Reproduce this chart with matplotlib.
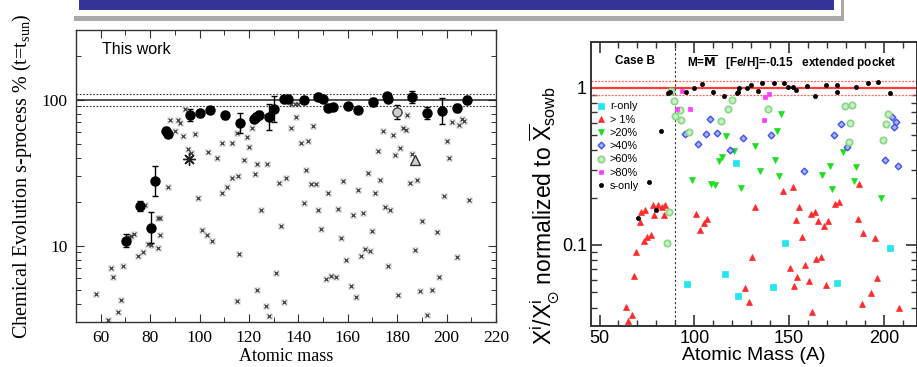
import numpy as np
import matplotlib.pyplot as plt
from matplotlib.patches import Rectangle
from matplotlib.ticker import MultipleLocator, LogLocator, NullFormatter, FixedLocator, FixedFormatter

plt.rcParams['mathtext.fontset'] = 'dejavusans'

# ---- left panel: chemical evolution s-process contributions ----
# (mass, percent, relative error)
this_work = [
    (70.1, 10.8, 0.11), (76.0, 18.6, 0.08), (80.2, 13.3, 0.28), (82.1, 27.6, 0.27),
    (86.6, 61.0, 0.06), (87.3, 58.5, 0.06), (96.0, 78.5, 0.10), (100.1, 80.5, 0.06),
    (104.1, 84.5, 0.05), (110.2, 78.0, 0.06), (116.3, 69.0, 0.17), (121.9, 74.0, 0.06),
    (123.0, 76.0, 0.07), (124.2, 78.5, 0.07), (128.0, 76.0, 0.23), (130.2, 86.0, 0.23),
    (134.2, 101.6, 0.04), (136.0, 101.0, 0.04), (142.3, 99.0, 0.05), (148.1, 105.0, 0.05),
    (150.1, 101.5, 0.05), (152.1, 87.3, 0.05), (154.2, 89.6, 0.05), (160.0, 91.0, 0.05),
    (164.0, 84.5, 0.05), (170.2, 96.4, 0.06), (175.9, 106.0, 0.05), (176.4, 100.5, 0.05),
    (186.0, 105.0, 0.10), (192.1, 81.5, 0.10), (198.2, 83.6, 0.22), (204.3, 87.7, 0.06),
    (208.2, 99.5, 0.06),
]
open_circle = (180.1, 82.4, 0.12)
star_point = (95.9, 39.0)
triangle_point = (187.2, 38.4)

others = [
    (94.3, 86), (88.2, 72), (91.2, 72), (92.2, 69), (90.2, 61), (93.2, 56.4), (98.0, 57.8),
    (95.2, 45.7), (96.6, 43.4), (103.3, 43.6), (107.1, 40), (109.2, 50.7), (113.1, 50.2),
    (115.1, 59.5), (119.2, 55.8), (121.2, 63.5), (120.2, 47.4), (118.2, 38.6), (123.2, 36.5),
    (127.2, 36.5), (122.5, 31.2), (115.5, 30.2), (113.2, 29.0), (87.3, 25.3), (99.3, 21.2),
    (108.9, 22.8), (111.1, 25.2), (132.3, 27.0), (135.0, 29.0), (137.1, 63.7), (139.2, 76),
    (137.0, 93), (138.5, 93), (140.0, 93), (141.2, 50.3), (144.1, 52.5), (146.1, 66),
    (143.0, 33), (145.0, 26.5), (147.2, 26.5), (152.1, 23), (158.2, 27.6), (164.2, 24),
    (168.2, 31.5), (171.0, 23), (172.1, 44.2), (173.1, 28), (174.1, 61.3), (178.2, 57.6),
    (179.1, 41.5), (181.2, 46.7), (182.5, 64), (183.5, 62.3), (184.1, 79), (186.1, 42.7),
    (185.2, 26.9), (188.2, 28.3), (200.0, 52.1), (201.1, 40), (202.1, 70.3), (205.0, 67.1),
    (206.1, 74.2), (207.2, 71.5), (78.1, 19.1), (83.1, 15.5), (84.2, 15.5), (71.3, 11.5),
    (72.4, 11.7), (73.5, 12.0), (79.1, 10.3), (80.2, 10.05), (83.2, 9.6), (84.1, 11.8),
    (77.1, 9.06), (75.1, 8.45), (69.0, 7.3), (64.2, 7.03), (65.1, 6.07), (58.1, 4.67),
    (68.2, 4.22), (67.1, 3.52), (63.0, 3.08), (101.0, 12.9), (103.0, 11.9), (105.1, 10.8),
    (116.1, 8.8), (125.0, 17.6), (133.0, 13.6), (131.1, 6.5), (123.1, 5.0), (115.2, 4.2),
    (127.0, 3.84), (128.0, 3.32), (134.1, 4.1), (199.1, 21.8), (209.2, 20.7), (142.3, 19.6),
    (148.1, 17.5), (156.2, 17.9), (162.3, 16.1), (166.3, 16.8), (175.1, 18.3), (177.1, 17.5),
    (190.0, 14.7), (149.2, 13.1), (170.0, 12.7), (196.3, 12.4), (157.2, 11.2), (167.0, 9.5),
    (169.0, 9.25), (187.2, 9.4), (165.3, 8.45), (159.2, 8.0), (204.1, 8.3), (176.2, 7.3),
    (151.1, 5.94), (153.1, 6.2), (155.1, 6.1), (197.1, 6.1), (161.2, 5.3), (163.2, 4.45),
    (180.2, 4.57), (189.3, 4.87), (194.0, 5.0), (192.2, 3.33),
]
solar_band = (90, 100, 110)

# ---- right panel: normalised abundances, case B ----
r_only = [(121.8, 0.333), (96.1, 0.0565), (116.0, 0.0656), (123.0, 0.0471), (141.7, 0.0538),
          (147.8, 0.1035), (175.5, 0.057), (203.3, 0.0953)]
above_1 = [
    (64.0, 0.0403), (67.1, 0.0357), (65.0, 0.0327), (68.1, 0.0632), (69.2, 0.0898),
    (71.1, 0.1395), (72.0, 0.162), (74.1, 0.166), (73.2, 0.1056), (75.1, 0.1125),
    (77.2, 0.115), (78.1, 0.181), (79.0, 0.1545), (81.1, 0.181), (82.9, 0.1746),
    (84.8, 0.181), (83.9, 0.1545), (101.0, 0.158), (104.9, 0.138), (106.8, 0.1465),
    (102.8, 0.125), (126.6, 0.0532), (128.8, 0.0431), (130.6, 0.0839), (132.2, 0.1746),
    (146.6, 0.221), (151.9, 0.233), (155.4, 0.174), (153.7, 0.144), (156.6, 0.112),
    (150.5, 0.0717), (154.3, 0.0628), (152.6, 0.0548), (158.4, 0.0745), (160.5, 0.0592),
    (161.6, 0.1575), (163.7, 0.163), (165.4, 0.143), (168.4, 0.132), (170.4, 0.143),
    (164.2, 0.081), (166.7, 0.0843), (162.3, 0.0376), (169.3, 0.0556), (174.2, 0.1824),
    (176.5, 0.189), (186.2, 0.146), (189.2, 0.12), (195.4, 0.111), (196.2, 0.0614),
    (193.1, 0.0492), (188.3, 0.042), (208.2, 0.0395), (187.1, 0.245),
]
above_20 = [
    (116.9, 0.497), (131.8, 0.429), (114.7, 0.364), (112.8, 0.344), (120.7, 0.395),
    (98.9, 0.258), (108.9, 0.245), (111.0, 0.24), (124.8, 0.231), (145.7, 0.68),
    (143.4, 0.535), (134.6, 0.297), (142.6, 0.348), (144.7, 0.275), (178.3, 0.389),
    (171.4, 0.317), (167.4, 0.28), (185.5, 0.312), (184.4, 0.257), (172.5, 0.226),
    (198.4, 0.198),
]
above_40 = [
    (94.9, 0.512), (108.1, 0.637), (106.0, 0.512), (111.9, 0.517), (101.9, 0.44),
    (119.0, 0.401), (125.7, 0.48), (140.6, 0.5), (157.7, 0.297), (177.6, 0.592),
    (173.5, 0.504), (180.6, 0.419), (204.3, 0.65), (206.4, 0.607), (205.5, 0.564),
    (200.5, 0.349), (207.5, 0.317),
]
above_60 = [
    (87.9, 0.961), (89.1, 0.823), (92.2, 0.721), (89.9, 0.66), (93.1, 0.623), (97.0, 0.522),
    (113.9, 0.619), (117.7, 0.738), (119.9, 0.842), (138.7, 0.735), (179.7, 0.764),
    (183.2, 0.776), (182.3, 0.598), (181.5, 0.453), (202.2, 0.683), (201.3, 0.592),
    (199.4, 0.466), (86.7, 0.162), (85.7, 0.1025),
]
above_80 = [(93.6, 0.961), (91.0, 0.738), (97.8, 0.735), (137.3, 0.88), (139.6, 0.912),
            (136.7, 0.625)]
s_only = [
    (85.9, 0.925), (87.1, 0.947), (95.6, 0.943), (99.8, 0.996), (103.9, 1.06), (109.7, 0.947),
    (115.6, 0.889), (122.3, 0.925), (123.2, 0.939), (123.7, 1.004), (127.6, 0.996),
    (129.7, 1.045), (133.7, 0.957), (135.9, 1.071), (142.0, 1.071), (147.5, 1.081),
    (149.6, 1.019), (151.9, 1.019), (153.6, 0.971), (159.6, 1.03), (163.7, 0.893),
    (169.4, 1.045), (175.4, 1.045), (175.4, 0.947), (185.3, 1.019), (191.5, 1.071),
    (197.1, 1.087), (203.3, 0.933), (82.2, 0.532), (76.2, 0.253), (70.2, 0.149), (79.9, 0.166),
]
unity_band = (0.9, 1.0, 1.1)
n50_mass = 90

W, H = 917, 367
fig = plt.figure(figsize=(W / 100, H / 100), dpi=100)


def px_box(x0, y0, x1, y1):
    return [x0 / W, 1 - y1 / H, (x1 - x0) / W, (y1 - y0) / H]


def px_rect(x0, y0, x1, y1, **kw):
    l, b, w, h = px_box(x0, y0, x1, y1)
    fig.patches.append(Rectangle((l, b), w, h, transform=fig.transFigure, **kw))


# slide title bar
px_rect(74, -5, 844, 21, color='#a8a8a8', lw=0)
px_rect(72, -5, 841, 15.5, color='white', lw=0)
px_rect(79, -5, 834, 10, color='#343499', lw=0)

serif = 'Liberation Serif'
sans = 'Liberation Sans'

# ---------------- left panel ----------------
ax1 = fig.add_axes(px_box(76, 30, 496, 322))
ax1.set_xlim(50, 220)
ax1.set_yscale('log')
ax1.set_ylim(3, 300)

lo, mid, hi = solar_band
ax1.axhline(mid, color='#222', lw=1.1)
for v in (lo, hi):
    ax1.axhline(v, color='#333', lw=0.8, ls=(0, (1.5, 1.5)))

oa, ov = np.array(others).T
ax1.plot(oa, ov, 's', ms=3.8, mfc='none', mec='#dadada', mew=0.5)
ax1.plot(oa, ov, 'x', ms=3.0, mew=0.9, color='#3a3a3a')

ta, tv, te = np.array(this_work).T
ax1.errorbar(ta, tv, yerr=[tv - tv / (1 + te), tv * te], fmt='o', ms=6.5,
             color='black', ecolor='black', elinewidth=1.0, capsize=2.5, capthick=1.0)
ca, cv, ce = open_circle
ax1.errorbar([ca], [cv], yerr=[[cv - cv / (1 + ce)], [cv * ce]], fmt='o', ms=6.5,
             mfc='#d0d0d0', mec='#444', color='black', elinewidth=1.0, capsize=2.5)
ax1.plot([ca], [cv], '+', ms=7, mew=1, color='#222')
ax1.plot([star_point[0]], [star_point[1]], marker=(8, 2, 0), ms=9, mew=1, color='#222', ls='none')
ax1.plot([triangle_point[0]], [triangle_point[1]], '^', ms=7, mfc='#d0d0d0', mec='#333', mew=1)

ax1.text(60.5, 222, 'This work', family=sans, fontsize=11.5, ha='left', va='center')

ax1.xaxis.set_major_locator(FixedLocator(list(range(60, 221, 20))))
ax1.xaxis.set_minor_locator(MultipleLocator(10))
ax1.yaxis.set_major_locator(FixedLocator([10, 100]))
ax1.yaxis.set_major_formatter(FixedFormatter(['10', '100']))
ax1.yaxis.set_minor_locator(LogLocator(base=10, subs=np.arange(2, 10)))
ax1.yaxis.set_minor_formatter(NullFormatter())
ax1.tick_params(which='both', direction='in', top=True, right=True, color='#333')
ax1.tick_params(which='major', length=6, width=0.8, pad=6)
ax1.tick_params(which='minor', length=3.5, width=0.7)
for lab in ax1.get_xticklabels() + ax1.get_yticklabels():
    lab.set_family(serif)
    lab.set_fontsize(12.5)
for sp in ax1.spines.values():
    sp.set_color('#333')
    sp.set_linewidth(1.0)
ax1.set_xlabel('Atomic mass', family=serif, fontsize=13, labelpad=1)
fig.text(22 / W, 1 - 176 / H, r'Chemical Evolution s-process % (t=t$\mathregular{_{sun}}$)',
         family=serif, fontsize=14.5, rotation=90, ha='center', va='center')

# ---------------- right panel ----------------
ax2 = fig.add_axes(px_box(591, 42, 917, 326))
ax2.set_xlim(45.5, 217.5)
ax2.set_yscale('log')
ax2.set_ylim(0.0305, 1.96)

ulo, umid, uhi = unity_band
ax2.axhline(umid, color='#ff3b3b', lw=1.6)
for v in (ulo, uhi):
    ax2.axhline(v, color='#ff6060', lw=0.9, ls=(0, (1.5, 1.2)))
ax2.axvline(n50_mass, color='#333', lw=0.8, ls=(0, (2, 2)))

series = [
    ('r-only', r_only, dict(marker='s', ms=4.2, mfc='#22e6f2', mec='#22e6f2', mew=0.5)),
    ('> 1%', above_1, dict(marker='^', ms=3.8, mfc='#ff2a2a', mec='#ff2a2a', mew=0.5)),
    ('>20%', above_20, dict(marker='v', ms=3.8, mfc='#1ee01e', mec='#1ee01e', mew=0.5)),
    ('>40%', above_40, dict(marker='D', ms=3.4, mfc='#aab4ff', mec='#3f52f0', mew=1.0)),
    ('>60%', above_60, dict(marker='o', ms=4.6, mfc='#c9efc9', mec='#86d886', mew=1.2)),
    ('>80%', above_80, dict(marker='s', ms=2.9, mfc='#ff3cff', mec='#ff3cff', mew=0.5)),
    ('s-only', s_only, dict(marker='o', ms=3.0, mfc='black', mec='black', mew=0.5)),
]
handles = []
for label, pts, style in series:
    a, v = np.array(pts).T
    h, = ax2.plot(a, v, ls='none', label=label, **style)
    handles.append(h)

ax2.legend(handles=handles, loc='upper left', bbox_to_anchor=(0.0, 0.81), frameon=False,
           prop={'family': sans, 'size': 7.8}, handlelength=0.9, handletextpad=0.35,
           labelspacing=0.3, borderpad=0.2, borderaxespad=0.3)

ax2.text(68.6, 1.48, 'Case B', family=sans, fontsize=8.5, fontweight='bold',
         ha='center', va='center')
ax2.text(95.9, 1.46, r'M=$\mathbf{\overline{M}}$   [Fe/H]=-0.15   extended pocket',
         family=sans, fontsize=8.5, fontweight='bold', ha='left', va='center')

ax2.xaxis.set_major_locator(FixedLocator([50, 100, 150, 200]))
ax2.xaxis.set_minor_locator(MultipleLocator(10))
ax2.yaxis.set_major_locator(FixedLocator([0.1, 1]))
ax2.yaxis.set_major_formatter(FixedFormatter(['0.1', '1']))
ax2.yaxis.set_minor_locator(LogLocator(base=10, subs=np.arange(2, 10)))
ax2.yaxis.set_minor_formatter(NullFormatter())
ax2.tick_params(which='both', direction='in', top=True, right=True, color='#333')
ax2.tick_params(which='major', length=8, width=1.2, pad=3)
ax2.tick_params(which='minor', length=4, width=1.0)
for lab in ax2.get_xticklabels() + ax2.get_yticklabels():
    lab.set_family(sans)
    lab.set_fontsize(13)
for sp in ax2.spines.values():
    sp.set_color('#333')
    sp.set_linewidth(1.4)
ax2.set_xlabel('Atomic Mass (A)', family=sans, fontsize=14, labelpad=0)
fig.text(544 / W, 1 - 216 / H,
         r'X$\mathregular{^i}$/X$\mathregular{^i_{\odot}}$ normalized to '
         r'$\overline{\mathregular{X}}\mathregular{_{sowb}}$',
         family=sans, fontsize=16.5, rotation=90, ha='center', va='center')

fig.savefig('out.png', dpi=100)
